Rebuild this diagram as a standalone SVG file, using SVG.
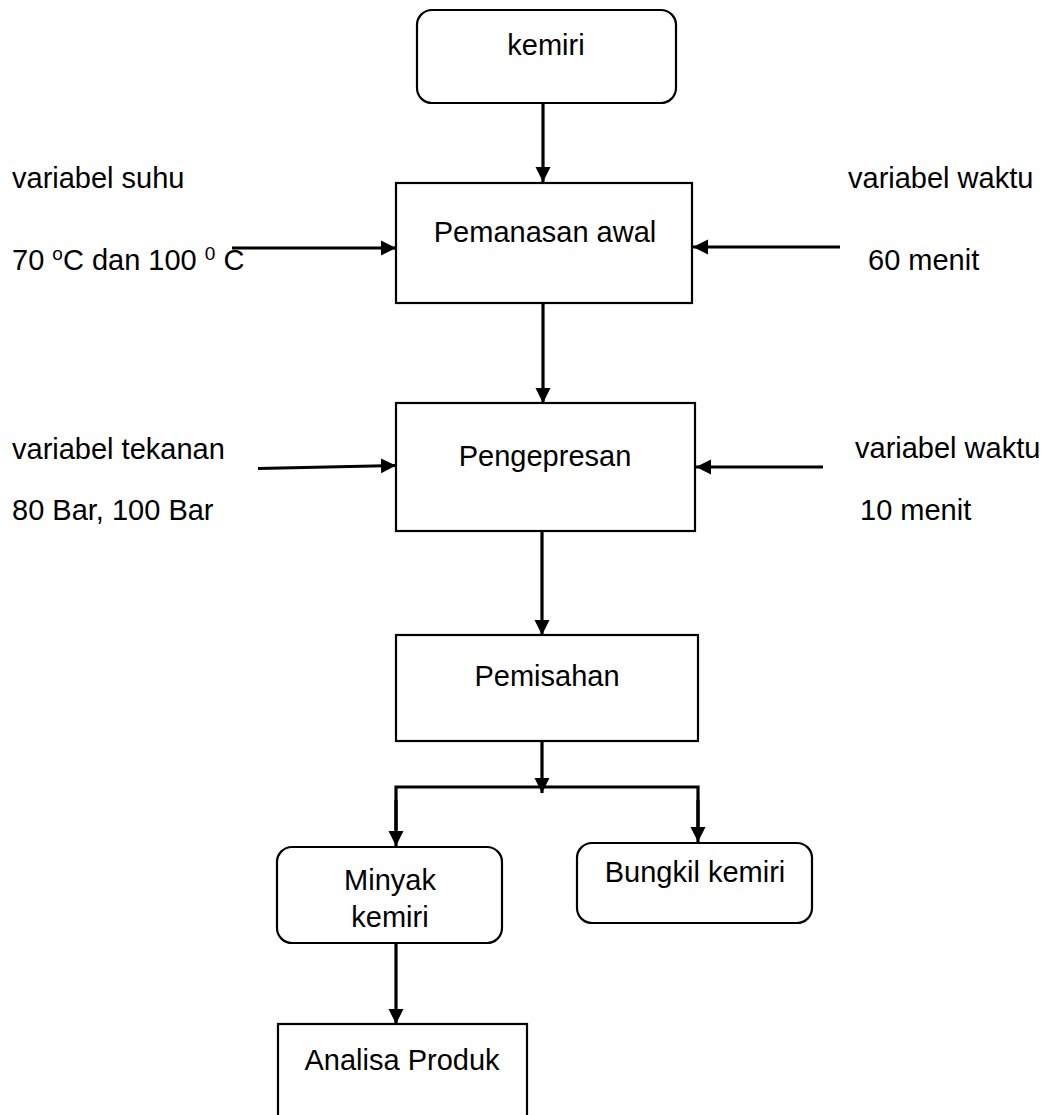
<svg xmlns="http://www.w3.org/2000/svg" width="1051" height="1115" viewBox="0 0 1051 1115">
<style>
  .box { fill: #ffffff; stroke: #000000; stroke-width: 2.2; }
  .t { font-family: "Liberation Sans", Arial, sans-serif; font-size: 29px; fill: #000000; }
  .c { text-anchor: middle; }
  .ln { fill: none; stroke: #000000; stroke-width: 3.2; }
  .arr { fill: none; stroke: #000000; stroke-width: 3.2; marker-end: url(#ah); }
</style>
<defs>
  <marker id="ah" markerUnits="userSpaceOnUse" markerWidth="16" markerHeight="16" refX="15" refY="8" orient="auto">
    <path d="M0,0.5 L15,8 L0,15.5 Z" fill="#000000"/>
  </marker>
</defs>
<rect width="1051" height="1115" fill="#ffffff"/>

<g id="connectors">
  <line class="arr" x1="543" y1="103" x2="543" y2="182"/>
  <line class="arr" x1="232" y1="248" x2="396" y2="248"/>
  <line class="arr" x1="840" y1="247" x2="693" y2="247"/>
  <line class="arr" x1="543" y1="303" x2="543" y2="403"/>
  <line class="arr" x1="258" y1="468.5" x2="396" y2="465.5"/>
  <line class="arr" x1="823" y1="467" x2="696" y2="467"/>
  <line class="arr" x1="542" y1="531" x2="542" y2="635"/>
  <line class="arr" x1="542" y1="741" x2="542" y2="793"/>
  <polyline class="ln" points="396,830 396,787 698,787 698,830"/>
  <line class="arr" x1="396" y1="800" x2="396" y2="846"/>
  <line class="arr" x1="698" y1="800" x2="698" y2="842"/>
  <line class="arr" x1="396" y1="943" x2="396" y2="1024"/>
</g>

<g id="labels">
  <text class="t" x="12" y="188">variabel suhu</text>
  <text class="t" x="12" y="270">70 <tspan font-size="19" dy="-10">o</tspan><tspan dy="10">C dan 100 </tspan><tspan font-size="19" dy="-10">0</tspan><tspan dy="10"> C</tspan></text>
  <text class="t" x="848" y="188">variabel waktu</text>
  <text class="t" x="868" y="270">60 menit</text>
  <text class="t" x="12" y="459">variabel tekanan</text>
  <text class="t" x="12" y="520">80 Bar, 100 Bar</text>
  <text class="t" x="855" y="458">variabel waktu</text>
  <text class="t" x="860" y="520">10 menit</text>
</g>

<g id="node-kemiri">
  <rect class="box" x="417" y="10" width="259" height="93" rx="15"/>
  <text class="t c" x="546" y="55">kemiri</text>
</g>
<g id="node-pemanasan">
  <rect class="box" x="396" y="183" width="296" height="120"/>
  <text class="t c" x="545" y="242">Pemanasan awal</text>
</g>
<g id="node-pengepresan">
  <rect class="box" x="396" y="403" width="299" height="128"/>
  <text class="t c" x="545" y="466">Pengepresan</text>
</g>
<g id="node-pemisahan">
  <rect class="box" x="396" y="635" width="302" height="106"/>
  <text class="t c" x="547" y="686">Pemisahan</text>
</g>
<g id="node-minyak">
  <rect class="box" x="277" y="847" width="225" height="96" rx="15"/>
  <text class="t c" x="390" y="890">Minyak</text>
  <text class="t c" x="390" y="927">kemiri</text>
</g>
<g id="node-bungkil">
  <rect class="box" x="577" y="843" width="235" height="80" rx="15"/>
  <text class="t c" x="695" y="882">Bungkil kemiri</text>
</g>
<g id="node-analisa">
  <rect class="box" x="278" y="1024" width="249" height="110"/>
  <text class="t c" x="402" y="1070">Analisa Produk</text>
</g>
</svg>
